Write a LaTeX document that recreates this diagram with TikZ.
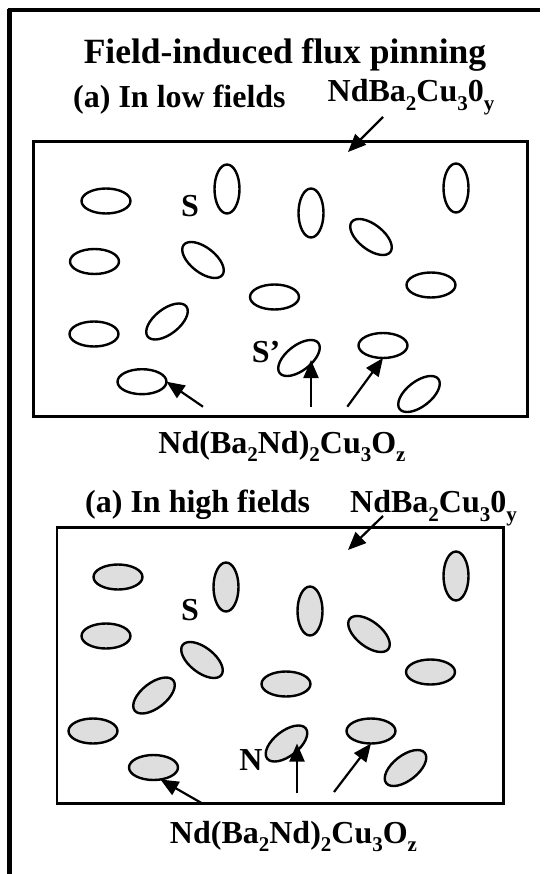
\documentclass[tikz,border=0pt]{standalone}
\usepackage{fontspec}
\setmainfont{Liberation Serif}
\usetikzlibrary{shapes.geometric,arrows.meta}
\newcommand{\lblfont}{\fontsize{32}{36}\selectfont\bfseries}
\newcommand{\ttlfont}{\fontsize{35.5}{40}\selectfont\bfseries}
\newcommand{\dn}[1]{\raisebox{-0.27em}{\fontsize{21}{21}\selectfont #1}}
\newcommand{\ndba}{NdBa\dn{2}Cu\dn{3}0\dn{y}}
\newcommand{\ndbanz}{Nd(Ba\dn{2}Nd)\dn{2}Cu\dn{3}O\dn{z}}
\tikzset{
  grain/.style={ellipse, draw, line width=2.4pt, minimum width=49pt, minimum height=25pt, inner sep=0pt, outer sep=0pt},
  hz/.style={grain},
  vt/.style={grain, rotate=90},
  bs/.style={grain, rotate=-38},
  fs/.style={grain, rotate=38},
  shaded/.style={fill=black!13},
  frame/.style={draw, line width=2.5pt},
  arr/.style={line width=2.2pt, -{Triangle[length=18pt,width=15pt]}},
  lbl/.style={font=\lblfont, inner sep=0pt},
}
\begin{document}
\begin{tikzpicture}[x=1pt,y=-1pt]
\useasboundingbox (0,0) rectangle (546,874);
% outer frame
\draw[line width=4.5pt] (9.5,874) -- (9.5,9);
\draw[line width=3.5pt] (7.5,10) -- (540,10);

\node[font=\ttlfont, inner sep=0pt, anchor=base] (title) at (285,64) {Field-induced flux pinning};

% ---------- (a) low fields ----------
\node[lbl, anchor=base west] (lowt) at (73,108) {(a) In low fields};
\node[lbl, anchor=base west] (ndbaU) at (327.5,102) {\ndba};
\draw[frame] (33.3,141.7) rectangle (527.7,416.7);

\node[hz] (U1) at (106,201) {};
\node[vt] (U2) at (227,189) {};
\node[vt] (U3) at (311,213) {};
\node[vt] (U4) at (456,188) {};
\node[hz] (U5) at (94.5,261.5) {};
\node[bs] (U6) at (203,260) {};
\node[bs] (U7) at (371,237) {};
\node[hz] (U8) at (431,285) {};
\node[hz] (U9) at (274.5,297) {};
\node[hz] (U10) at (94,334) {};
\node[fs] (U11) at (167,321.5) {};
\node[hz] (U12) at (142,381.7) {};
\node[fs] (U13) at (299,358) {};
\node[hz] (U14) at (383,345.5) {};
\node[fs] (U15) at (419,394) {};
\node[lbl] (SU) at (190,206) {S};
\node[lbl] (SpU) at (266,352) {S’};

\coordinate (tU0) at (383,117);
\coordinate (hU0) at (348,152);
\draw[arr] (tU0) -- (hU0);
\coordinate (tU1) at (203,406.7);
\coordinate (tU2) at (311,406.7);
\coordinate (tU3) at (347.3,406.7);
\draw[arr] (tU1) -- (U12.east);
\draw[arr] (tU2) -- ([xshift=12pt,yshift=-2pt]U13.center);
\draw[arr] (tU3) -- (U14.south);
\node[lbl, anchor=base] (nzU) at (282,453) {\ndbanz};

% ---------- (a) high fields ----------
\node[lbl, anchor=base west] (hight) at (85,512) {(a) In high fields};
\node[lbl, anchor=base west] (ndbaL) at (350,512.7) {\ndba};
\draw[frame] (56.8,527.3) rectangle (503.5,803.3);

\node[hz, shaded] (L1) at (118,577) {};
\node[vt, shaded] (L2) at (226,587) {};
\node[vt, shaded] (L3) at (310,611) {};
\node[vt, shaded] (L4) at (456,576) {};
\node[hz, shaded] (L5) at (106,636) {};
\node[bs, shaded] (L6) at (202,660) {};
\node[bs, shaded] (L7) at (369,634) {};
\node[hz, shaded] (L8) at (430.5,672) {};
\node[hz, shaded] (L9) at (286,684) {};
\node[hz, shaded] (L10) at (93,731) {};
\node[fs, shaded] (L11) at (154,695.5) {};
\node[hz, shaded] (L12) at (153.5,767.5) {};
\node[fs, shaded] (L13) at (286.5,743.5) {};
\node[hz, shaded] (L14) at (371,731) {};
\node[fs, shaded] (L15) at (405.5,768) {};
\node[lbl] (SL) at (190,610) {S};
\node[lbl] (NL) at (251,760) {N};

\coordinate (tL0) at (383,516);
\coordinate (hL0) at (348,550);
\draw[arr] (tL0) -- (hL0);
\coordinate (tL1) at (201,802.7);
\coordinate (tL2) at (297,793);
\coordinate (tL3) at (334,792);
\draw[arr] (tL1) -- (L12.-60);
\draw[arr] (tL2) -- ([xshift=10.5pt]L13.center);
\draw[arr] (tL3) -- (L14.south);
\node[lbl, anchor=base] (nzL) at (293.5,843) {\ndbanz};
\end{tikzpicture}
\end{document}
